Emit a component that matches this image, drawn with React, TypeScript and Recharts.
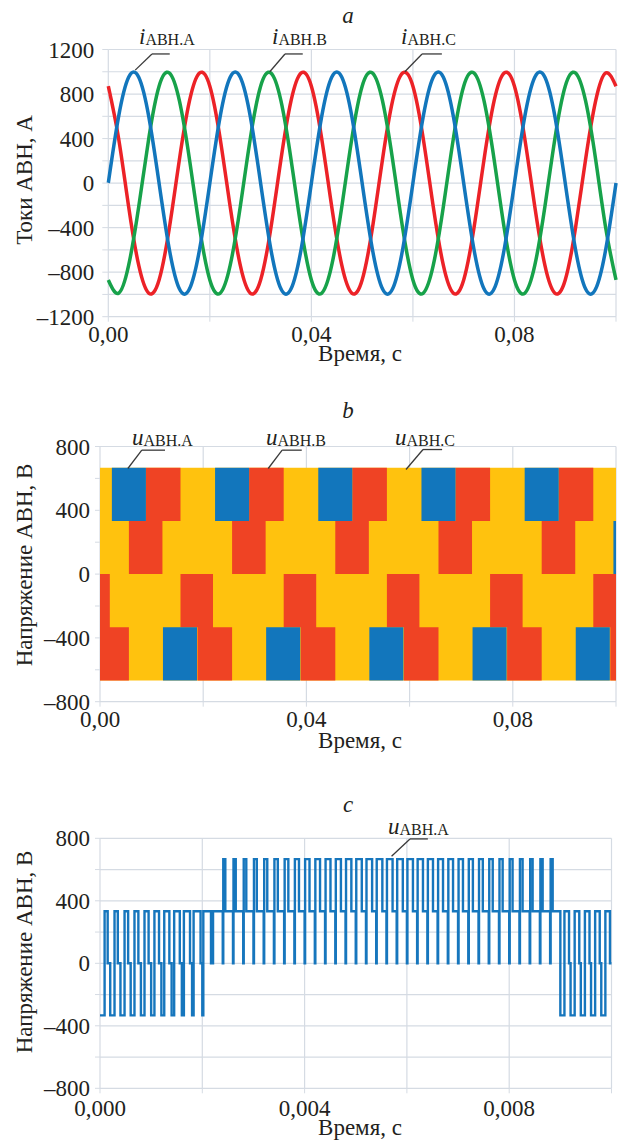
import React from 'react';
import {
  LineChart,
  Line,
  ComposedChart,
  Area,
  XAxis,
  YAxis,
  CartesianGrid,
  ReferenceLine,
} from 'recharts';

const FONT = '"Liberation Serif", "Times New Roman", serif';
const TEXT = '#231f20';
const GRID = '#d5dbe3';
const LEADER = '#3a3a3a';

const BLUE = '#1276bc';
const GREEN = '#17a24a';
const RED = '#ec2227';
const YELLOW = '#ffc20e';
const ORANGE = '#ef4324';
const PWM_BLUE = '#1676bd';

// ---------- a: inverter currents (sampled every 2 ms) ----------
const timeA = [
  0, 0.002, 0.004, 0.006, 0.008, 0.01, 0.012, 0.014, 0.016, 0.018,
  0.02, 0.022, 0.024, 0.026, 0.028, 0.03, 0.032, 0.034, 0.036, 0.038,
  0.04, 0.042, 0.044, 0.046, 0.048, 0.05, 0.052, 0.054, 0.056, 0.058,
  0.06, 0.062, 0.064, 0.066, 0.068, 0.07, 0.072, 0.074, 0.076, 0.078,
  0.08, 0.082, 0.084, 0.086, 0.088, 0.09, 0.092, 0.094, 0.096, 0.098,
  0.1,
];
const currentA = [
  0, 590, 950, 950, 590, 0, -590, -950, -950, -590,
  0, 590, 950, 950, 590, 0, -590, -950, -950, -590,
  0, 590, 950, 950, 590, 0, -590, -950, -950, -590,
  0, 590, 950, 950, 590, 0, -590, -950, -950, -590,
  0, 590, 950, 950, 590, 0, -590, -950, -950, -590,
  0,
];
const currentB = [
  -870, -990, -740, -210, 410, 870, 990, 740, 210, -410,
  -870, -990, -740, -210, 410, 870, 990, 740, 210, -410,
  -870, -990, -740, -210, 410, 870, 990, 740, 210, -410,
  -870, -990, -740, -210, 410, 870, 990, 740, 210, -410,
  -870, -990, -740, -210, 410, 870, 990, 740, 210, -410,
  -870,
];
const currentC = [
  870, 410, -210, -740, -990, -870, -410, 210, 740, 990,
  870, 410, -210, -740, -990, -870, -410, 210, 740, 990,
  870, 410, -210, -740, -990, -870, -410, 210, 740, 990,
  870, 410, -210, -740, -990, -870, -410, 210, 740, 990,
  870, 410, -210, -740, -990, -870, -410, 210, 740, 990,
  870,
];

// ---------- b: phase voltage envelopes ----------
// [time, low, high] — value holds until the next row
const orangeSteps: [number, number, number][] = [
  [0, -667, 0], [0.0019, -667, -333], [0.0056, 0, 333], [0.0089, 0, 667], [0.0121, 333, 667],
  [0.0156, -333, 0], [0.0189, -667, 0], [0.0219, -667, -333], [0.0256, 0, 333], [0.0289, 0, 667],
  [0.0321, 333, 667], [0.0356, -333, 0], [0.0389, -667, 0], [0.0419, -667, -333], [0.0456, 0, 333],
  [0.0489, 0, 667], [0.0521, 333, 667], [0.0556, -333, 0], [0.0589, -667, 0], [0.0619, -667, -333],
  [0.0656, 0, 333], [0.0689, 0, 667], [0.0721, 333, 667], [0.0756, -333, 0], [0.0789, -667, 0],
  [0.0819, -667, -333], [0.0856, 0, 333], [0.0889, 0, 667], [0.0921, 333, 667], [0.0956, -333, 0],
  [0.0989, -667, 0], [0.1, -667, 0],
];
// [start, end, low, high]
const blueBlocks: [number, number, number, number][] = [
  [0.0023, 0.0089, 333, 667], [0.0122, 0.0188, -667, -333],
  [0.0223, 0.0289, 333, 667], [0.0322, 0.0388, -667, -333],
  [0.0423, 0.0489, 333, 667], [0.0522, 0.0588, -667, -333],
  [0.0623, 0.0689, 333, 667], [0.0722, 0.0788, -667, -333],
  [0.0823, 0.0889, 333, 667], [0.0922, 0.0988, -667, -333],
  [0.0995, 0.1, 0, 333],
];
const yellowBand: [number, number, number] = [0, 0.1, 667];

// ---------- c: PWM phase voltage, 0.2 ms carrier ----------
const pwmPeriod = 0.0002;
const pwmRegions = [
  { first: 0, last: 10, low: -333, rest: 0, high: 333 },
  { first: 11, last: 44, low: 0, rest: 333, high: 667 },
  { first: 45, last: 49, low: -333, rest: 0, high: 333 },
];
const dutyLow = [
  0.45, 0.42, 0.4, 0.37, 0.35, 0.32, 0.28, 0.25, 0.2, 0.15, 0.1,
  0.05, 0.05, 0.05, 0.05, 0.05, 0.05, 0.05, 0.05, 0.05, 0.05,
  0.05, 0.05, 0.05, 0.05, 0.05, 0.05, 0.05, 0.05, 0.05, 0.05,
  0.05, 0.05, 0.05, 0.05, 0.05, 0.05, 0.05, 0.05, 0.05, 0.05,
  0.05, 0.05, 0.05, 0.05,
  0.4, 0.4, 0.4, 0.4, 0.4,
];
const dutyHigh = [
  0.3, 0.32, 0.35, 0.38, 0.4, 0.45, 0.5, 0.55, 0.6, 0.68, 0.75,
  0, 0.2, 0.22, 0.25, 0.28, 0.3, 0.33, 0.36, 0.4, 0.43,
  0.46, 0.48, 0.5, 0.52, 0.54, 0.55, 0.55, 0.55, 0.55, 0.54,
  0.52, 0.5, 0.48, 0.46, 0.43, 0.4, 0.37, 0.34, 0.31, 0.28,
  0.26, 0.24, 0.22, 0.2,
  0.45, 0.45, 0.45, 0.45, 0.45,
];

const xTicks = [0, 0.02, 0.04, 0.06, 0.08, 0.1];
const xLabeled = [0, 0.04, 0.08];
const xTicksC = [0, 0.002, 0.004, 0.006, 0.008, 0.01];
const xLabeledC = [0, 0.004, 0.008];
const yTicksA = [-1200, -1000, -800, -600, -400, -200, 0, 200, 400, 600, 800, 1000, 1200];
const yTicksB = [-800, -600, -400, -200, 0, 200, 400, 600, 800];

// leader lines: [x1, y1, x2, y2, x3, y3] in data units
const leadersA = [
  [0.0053, 1015, 0.0086, 1160, 0.0121, 1160],
  [0.0318, 1000, 0.0348, 1160, 0.0383, 1160],
  [0.0584, 1000, 0.0618, 1160, 0.0657, 1160],
];
const leadersB = [
  [0.0054, 662, 0.0081, 777, 0.0126, 777],
  [0.0326, 662, 0.0353, 777, 0.0391, 777],
  [0.0593, 656, 0.0626, 781, 0.0663, 781],
];
const leadersC = [[0.0057, 685, 0.00606, 796, 0.00641, 796]];

const currentRows = timeA.map((t, i) => ({ t, a: currentA[i], b: currentB[i], c: currentC[i] }));
const orangeRows = orangeSteps.map(([t, lo, hi]) => ({ t, range: [lo, hi] }));
const blueRows = blueBlocks.flatMap(([s, e, lo, hi]) => [
  { t: s, range: [lo, hi] },
  { t: e, range: [lo, hi] },
  { t: e, range: null },
]);
const yellowRows = [
  { t: yellowBand[0], range: [-yellowBand[2], yellowBand[2]] },
  { t: yellowBand[1], range: [-yellowBand[2], yellowBand[2]] },
];

const pwmRows: { t: number; v: number }[] = [];
pwmRegions.forEach((r) => {
  for (let k = r.first; k <= r.last; k++) {
    const t0 = k * pwmPeriod;
    pwmRows.push({ t: t0, v: r.low });
    if (dutyHigh[k] > 0) pwmRows.push({ t: t0 + dutyLow[k] * pwmPeriod, v: r.high });
    pwmRows.push({ t: t0 + (dutyLow[k] + dutyHigh[k]) * pwmPeriod, v: r.rest });
  }
});
pwmRows.push({ t: 0.01, v: 0 });

const near = (list: number[], v: number) => list.some((x) => Math.abs(x - v) < 1e-9);
const fmtY = (v: number) => (v % 400 !== 0 ? '' : v < 0 ? '\u2013' + Math.abs(v) : String(v));
const fmtX2 = (v: number) => (near(xLabeled, v) ? v.toFixed(2).replace('.', ',') : '');
const fmtX3 = (v: number) => (near(xLabeledC, v) ? v.toFixed(3).replace('.', ',') : '');

function YTick(props: any) {
  const label = fmtY(props.payload.value);
  if (!label) return <g />;
  return (
    <text x={props.x} y={props.y} dy="0.35em" textAnchor="end" fill={TEXT} fontFamily={FONT} fontSize={23}>
      {label}
    </text>
  );
}

function makeXTick(fmt: (v: number) => string) {
  return function XTick(props: any) {
    const label = fmt(props.payload.value);
    if (!label) return <g />;
    return (
      <text x={props.x} y={props.y} dy="0.71em" textAnchor="middle" fill={TEXT} fontFamily={FONT} fontSize={23}>
        {label}
      </text>
    );
  };
}
const XTick2 = makeXTick(fmtX2);
const XTick3 = makeXTick(fmtX3);

function leaderLines(list: number[][], prefix: string) {
  return list.flatMap((l, i) => [
    <ReferenceLine
      key={`${prefix}-${i}-d`}
      segment={[{ x: l[0], y: l[1] }, { x: l[2], y: l[3] }]}
      stroke={LEADER}
      strokeWidth={1.3}
      ifOverflow="visible"
    />,
    <ReferenceLine
      key={`${prefix}-${i}-h`}
      segment={[{ x: l[2], y: l[3] }, { x: l[4], y: l[5] }]}
      stroke={LEADER}
      strokeWidth={1.3}
      ifOverflow="visible"
    />,
  ]);
}

function SeriesLabel({ x, y, sym, sub }: { x: number; y: number; sym: string; sub: string }) {
  return (
    <text x={x} y={y} fill={TEXT} fontFamily={FONT} fontSize={23}>
      <tspan fontStyle="italic">{sym}</tspan>
      <tspan fontSize={16} dy={1}>{sub}</tspan>
    </text>
  );
}

function YTitle({ x, y, text }: { x: number; y: number; text: string }) {
  return (
    <text transform={`translate(${x}, ${y}) rotate(-90)`} textAnchor="middle" fill={TEXT} fontFamily={FONT} fontSize={23}>
      {text}
    </text>
  );
}

function XTitle({ y }: { y: number }) {
  return (
    <text x={360} y={y} textAnchor="middle" fill={TEXT} fontFamily={FONT} fontSize={23}>
      Время, с
    </text>
  );
}

const chartStyle = { fontFamily: FONT };

export default function App() {
  return (
    <div style={{ position: 'absolute', left: 0, top: 0, width: 618, height: 1142, background: '#fff', fontFamily: FONT }}>
      <div style={{ position: 'absolute', left: 0, top: 0 }}>
        <LineChart width={618} height={360} data={currentRows} style={chartStyle}
          margin={{ top: 49.5, right: 2, bottom: 13.3, left: 38.3 }}>
          <CartesianGrid stroke={GRID} strokeWidth={1.2} />
          <XAxis dataKey="t" type="number" domain={[0, 0.1]} ticks={xTicks} interval={0} tick={XTick2}
            tickLine={{ stroke: GRID }} axisLine={false} tickSize={5} tickMargin={4} height={30} />
          <YAxis type="number" domain={[-1200, 1200]} ticks={yTicksA} interval={0} tick={YTick}
            tickLine={{ stroke: GRID }} axisLine={false} tickSize={6} tickMargin={8} width={70} />
          <Line dataKey="c" type="natural" stroke={RED} strokeWidth={3.5} dot={false} isAnimationActive={false} />
          <Line dataKey="b" type="natural" stroke={GREEN} strokeWidth={3.5} dot={false} isAnimationActive={false} />
          <Line dataKey="a" type="natural" stroke={BLUE} strokeWidth={3.5} dot={false} isAnimationActive={false} />
          {leaderLines(leadersA, 'a')}
        </LineChart>
      </div>

      <div style={{ position: 'absolute', left: 0, top: 360 }}>
        <ComposedChart width={618} height={400} style={chartStyle}
          margin={{ top: 86.5, right: 2, bottom: 28.3, left: 30 }}>
          <CartesianGrid stroke={GRID} strokeWidth={1.2} />
          <XAxis dataKey="t" type="number" domain={[0, 0.1]} ticks={xTicks} interval={0} tick={XTick2}
            tickLine={{ stroke: GRID }} axisLine={false} tickSize={5} tickMargin={4} height={30} allowDataOverflow />
          <YAxis type="number" domain={[-800, 800]} ticks={yTicksB} interval={0} tick={YTick}
            tickLine={{ stroke: GRID }} axisLine={false} tickSize={5} tickMargin={5} width={70} />
          <Area data={yellowRows} dataKey="range" type="linear" stroke="none" fill={YELLOW} fillOpacity={1} isAnimationActive={false} />
          <Area data={orangeRows} dataKey="range" type="stepAfter" stroke="none" fill={ORANGE} fillOpacity={1} isAnimationActive={false} />
          <Area data={blueRows} dataKey="range" type="stepAfter" stroke="none" fill={BLUE} fillOpacity={1} isAnimationActive={false} />
          {leaderLines(leadersB, 'b')}
        </ComposedChart>
      </div>

      <div style={{ position: 'absolute', left: 0, top: 760 }}>
        <LineChart width={618} height={382} data={pwmRows} style={chartStyle}
          margin={{ top: 78.3, right: 6.5, bottom: 23.7, left: 30 }}>
          <CartesianGrid stroke={GRID} strokeWidth={1.2} />
          <XAxis dataKey="t" type="number" domain={[0, 0.01]} ticks={xTicksC} interval={0} tick={XTick3}
            tickLine={{ stroke: GRID }} axisLine={false} tickSize={5} tickMargin={6} height={30} />
          <YAxis type="number" domain={[-800, 800]} ticks={yTicksB} interval={0} tick={YTick}
            tickLine={{ stroke: GRID }} axisLine={false} tickSize={5} tickMargin={5} width={70} />
          <Line dataKey="v" type="stepAfter" stroke={PWM_BLUE} strokeWidth={2.4} dot={false} isAnimationActive={false} />
          {leaderLines(leadersC, 'c')}
        </LineChart>
      </div>

      <svg width={618} height={1142} style={{ position: 'absolute', left: 0, top: 0, pointerEvents: 'none' }}>
        <text x={348} y={23} textAnchor="middle" fontStyle="italic" fill={TEXT} fontFamily={FONT} fontSize={23}>a</text>
        <text x={348} y={418} textAnchor="middle" fontStyle="italic" fill={TEXT} fontFamily={FONT} fontSize={23}>b</text>
        <text x={348} y={812} textAnchor="middle" fontStyle="italic" fill={TEXT} fontFamily={FONT} fontSize={23}>c</text>

        <SeriesLabel x={139} y={43.5} sym="i" sub="АВН.A" />
        <SeriesLabel x={272} y={43.5} sym="i" sub="АВН.B" />
        <SeriesLabel x={401} y={43.5} sym="i" sub="АВН.C" />
        <SeriesLabel x={132} y={445} sym="u" sub="АВН.A" />
        <SeriesLabel x={266} y={445} sym="u" sub="АВН.B" />
        <SeriesLabel x={395} y={445} sym="u" sub="АВН.C" />
        <SeriesLabel x={388} y={834} sym="u" sub="АВН.A" />

        <YTitle x={32} y={180} text="Токи АВН, А" />
        <YTitle x={32} y={565} text="Напряжение АВН, В" />
        <YTitle x={32} y={952} text="Напряжение АВН, В" />

        <XTitle y={361} />
        <XTitle y={748} />
        <XTitle y={1135} />
      </svg>
    </div>
  );
}
